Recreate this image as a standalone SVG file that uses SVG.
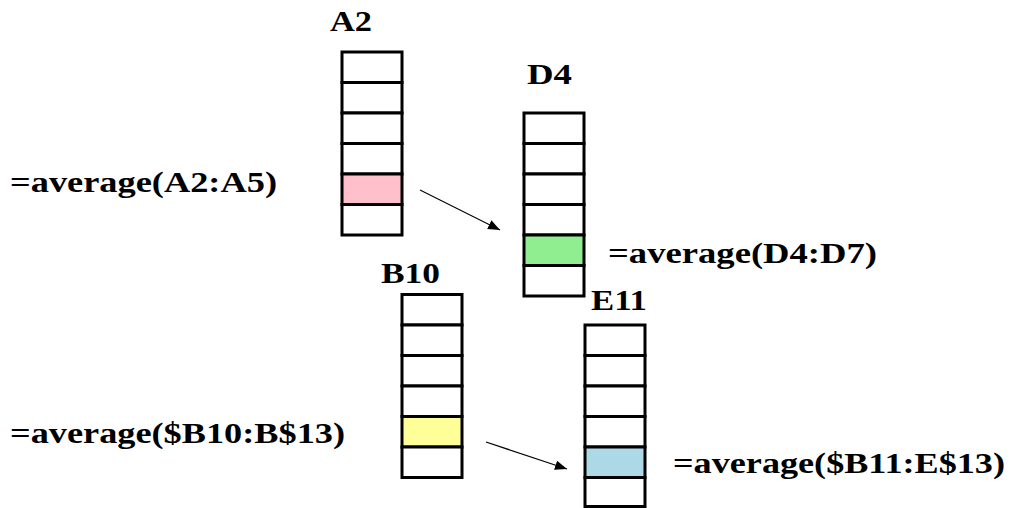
<svg xmlns="http://www.w3.org/2000/svg" width="1013" height="508" viewBox="0 0 1013 508">
  <style>
    .cell { fill: #ffffff; stroke: #000000; stroke-width: 3; }
    .hl-pink { fill: #ffc0cb; }
    .hl-green { fill: #90ee90; }
    .hl-yellow { fill: #ffff99; }
    .hl-blue { fill: #add8e6; }
    .lbl { font-family: "Liberation Serif", "DejaVu Serif", serif; font-weight: bold; font-size: 29px; fill: #000000; }
    .conn { stroke: #000000; stroke-width: 1.2; fill: none; marker-end: url(#arrow); }
  </style>
  <defs>
    <marker id="arrow" viewBox="0 0 10 10" refX="10" refY="5" markerWidth="12" markerHeight="12" markerUnits="userSpaceOnUse" orient="auto">
      <path d="M0,1 L10,5 L0,9 Z" fill="#000000"/>
    </marker>
  </defs>

  <!-- column starting at A2 -->
  <g id="colA2">
    <text class="lbl" x="330" y="31" textLength="42" lengthAdjust="spacingAndGlyphs">A2</text>
    <rect class="cell" x="342" y="52" width="60" height="30.5"/>
    <rect class="cell" x="342" y="82.5" width="60" height="30.5"/>
    <rect class="cell" x="342" y="113" width="60" height="30.5"/>
    <rect class="cell" x="342" y="143.5" width="60" height="30.5"/>
    <rect class="cell hl-pink" x="342" y="174" width="60" height="30.5"/>
    <rect class="cell" x="342" y="204.5" width="60" height="30.5"/>
    <text class="lbl" x="10" y="192" textLength="267" lengthAdjust="spacingAndGlyphs">=average(A2:A5)</text>
  </g>

  <!-- column starting at D4 -->
  <g id="colD4">
    <text class="lbl" x="527" y="84" textLength="45" lengthAdjust="spacingAndGlyphs">D4</text>
    <rect class="cell" x="524" y="113" width="60" height="30.5"/>
    <rect class="cell" x="524" y="143.5" width="60" height="30.5"/>
    <rect class="cell" x="524" y="174" width="60" height="30.5"/>
    <rect class="cell" x="524" y="204.5" width="60" height="30.5"/>
    <rect class="cell hl-green" x="524" y="235" width="60" height="30.5"/>
    <rect class="cell" x="524" y="265.5" width="60" height="30.5"/>
    <text class="lbl" x="608" y="263" textLength="269" lengthAdjust="spacingAndGlyphs">=average(D4:D7)</text>
  </g>

  <!-- column starting at B10 -->
  <g id="colB10">
    <text class="lbl" x="381" y="283" textLength="59" lengthAdjust="spacingAndGlyphs">B10</text>
    <rect class="cell" x="402" y="294.5" width="60" height="30.5"/>
    <rect class="cell" x="402" y="325" width="60" height="30.5"/>
    <rect class="cell" x="402" y="355.5" width="60" height="30.5"/>
    <rect class="cell" x="402" y="386" width="60" height="30.5"/>
    <rect class="cell hl-yellow" x="402" y="416.5" width="60" height="30.5"/>
    <rect class="cell" x="402" y="447" width="60" height="30.5"/>
    <text class="lbl" x="10" y="443" textLength="335" lengthAdjust="spacingAndGlyphs">=average($B10:B$13)</text>
  </g>

  <!-- column starting at E11 -->
  <g id="colE11">
    <text class="lbl" x="591" y="310" textLength="56" lengthAdjust="spacingAndGlyphs">E11</text>
    <rect class="cell" x="585" y="325" width="60" height="30.5"/>
    <rect class="cell" x="585" y="355.5" width="60" height="30.5"/>
    <rect class="cell" x="585" y="386" width="60" height="30.5"/>
    <rect class="cell" x="585" y="416.5" width="60" height="30.5"/>
    <rect class="cell hl-blue" x="585" y="447" width="60" height="30.5"/>
    <rect class="cell" x="585" y="477.5" width="60" height="29"/>
    <text class="lbl" x="673" y="473" textLength="332" lengthAdjust="spacingAndGlyphs">=average($B11:E$13)</text>
  </g>

  <!-- arrows between the columns -->
  <g id="connectors">
    <line class="conn" x1="420" y1="190" x2="500" y2="230"/>
    <line class="conn" x1="486" y1="442" x2="567" y2="469"/>
  </g>
</svg>
